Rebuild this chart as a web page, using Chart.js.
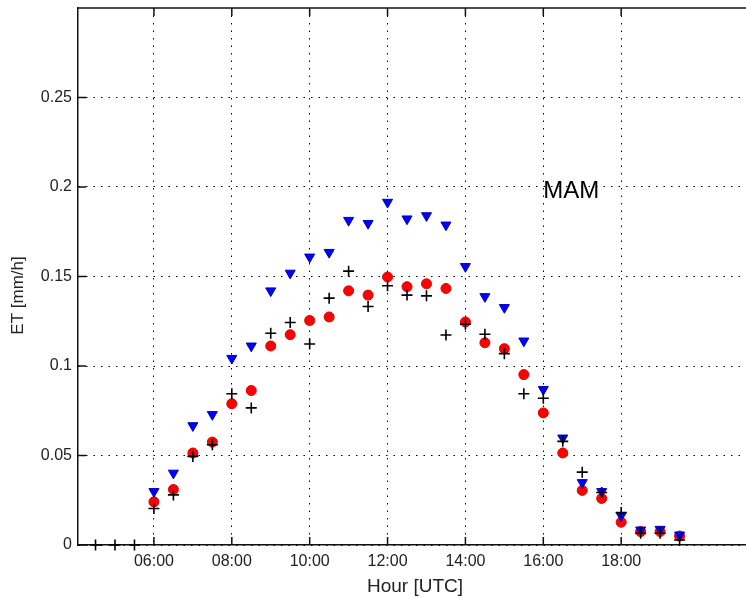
<!DOCTYPE html>
<html><head><meta charset="utf-8">
<script src="https://cdn.jsdelivr.net/npm/chart.js@4"></script>
<style>html,body{margin:0;padding:0;overflow:hidden;background:#fff;} #wrap{width:752px;height:598px;}</style>
</head><body><div id="wrap"><canvas id="c" width="752" height="598"></canvas></div>
<script>
const hours = [6, 6.5, 7, 7.5, 8, 8.5, 9, 9.5, 10, 10.5, 11, 11.5, 12, 12.5, 13, 13.5, 14, 14.5, 15, 15.5, 16, 16.5, 17, 17.5, 18, 18.5, 19, 19.5];
const blueET = [0.0299, 0.0402, 0.0667, 0.0729, 0.1043, 0.1112, 0.142, 0.1519, 0.1609, 0.1635, 0.1814, 0.1797, 0.1915, 0.1822, 0.184, 0.1788, 0.1556, 0.1388, 0.1327, 0.114, 0.0869, 0.0598, 0.0349, 0.0299, 0.0164, 0.0084, 0.0088, 0.0056];
const redET = [0.0241, 0.031, 0.0514, 0.0575, 0.0789, 0.0863, 0.1112, 0.1175, 0.1254, 0.1274, 0.142, 0.1396, 0.1497, 0.1443, 0.1459, 0.1433, 0.1246, 0.113, 0.1097, 0.0952, 0.0738, 0.0514, 0.0305, 0.026, 0.0127, 0.0075, 0.0075, 0.005];
const plusHours = [4.5, 5, 5.5, 6, 6.5, 7, 7.5, 8, 8.5, 9, 9.5, 10, 10.5, 11, 11.5, 12, 12.5, 13, 13.5, 14, 14.5, 15, 15.5, 16, 16.5, 17, 17.5, 18, 18.5, 19, 19.5];
const plusET = [0, 0, 0, 0.0204, 0.028, 0.0495, 0.056, 0.0845, 0.0766, 0.1183, 0.1243, 0.1123, 0.1379, 0.153, 0.1332, 0.1448, 0.1396, 0.1392, 0.1173, 0.1233, 0.1177, 0.1069, 0.0845, 0.082, 0.0579, 0.0407, 0.0293, 0.0181, 0.0066, 0.0066, 0.0028];
const xTicks = [6, 8, 10, 12, 14, 16, 18];
const xTickLabels = ['06:00', '08:00', '10:00', '12:00', '14:00', '16:00', '18:00'];
const yTicks = [0, 0.05, 0.1, 0.15, 0.2, 0.25];
const yTickLabels = ['0', '0.05', '0.1', '0.15', '0.2', '0.25'];
const yTitle = 'ET [mm/h]';
const seasonLabel = 'MAM';
const seasonAt = [16, 0.2];

const FONT = '"Liberation Sans", Arial, sans-serif';
const pts = (xs, ys) => xs.map((v, i) => ({x: v, y: ys[i]}));

const frame = {
  id: 'frame',
  afterDraw(chart) {
    const {ctx, chartArea: a, scales: {x, y}} = chart;
    ctx.save();
    ctx.strokeStyle = '#111';
    ctx.lineWidth = 1.5;
    ctx.beginPath();
    ctx.moveTo(a.left, a.top); ctx.lineTo(a.right, a.top);
    xTicks.forEach(v => {
      const px = x.getPixelForValue(v);
      ctx.moveTo(px, a.bottom); ctx.lineTo(px, a.bottom - 8);
      ctx.moveTo(px, a.top); ctx.lineTo(px, a.top + 8);
    });
    yTicks.forEach(v => {
      const py = y.getPixelForValue(v);
      ctx.moveTo(a.left, py); ctx.lineTo(a.left + 8, py);
    });
    ctx.stroke();
    ctx.fillStyle = '#000';
    ctx.font = '24px ' + FONT;
    ctx.textAlign = 'left';
    ctx.textBaseline = 'alphabetic';
    ctx.fillText(seasonLabel, x.getPixelForValue(seasonAt[0]), y.getPixelForValue(seasonAt[1]) + 10.5);
    // y-axis title
    ctx.fillStyle = '#222';
    ctx.font = '17px ' + FONT;
    ctx.textAlign = 'center';
    ctx.textBaseline = 'middle';
    ctx.translate(18, (a.top + a.bottom) / 2 + 19);
    ctx.rotate(-Math.PI / 2);
    ctx.fillText(yTitle, 0, 0);
    ctx.restore();
  }
};

new Chart(document.getElementById('c'), {
  type: 'scatter',
  data: {
    datasets: [
      {label: 'plus', data: pts(plusHours, plusET), pointStyle: 'cross', pointRadius: 5.5, borderColor: '#000', borderWidth: 1.6, clip: false},
      {label: 'blue', data: pts(hours, blueET), pointStyle: 'triangle', rotation: 180, pointRadius: 5.8, backgroundColor: '#0000ff', borderColor: '#0000c0', borderWidth: 1, clip: false},
      {label: 'red', data: pts(hours, redET), pointStyle: 'circle', pointRadius: 5, backgroundColor: '#ff0000', borderColor: '#e00000', borderWidth: 1, clip: false}
    ]
  },
  options: {
    responsive: false,
    animation: false,
    devicePixelRatio: 1,
    layout: {autoPadding: false, padding: {top: 8, right: 0, left: 0, bottom: 0}},
    plugins: {legend: {display: false}, tooltip: {enabled: false}},
    scales: {
      x: {
        type: 'linear', min: 4.05, max: 21.36,
        afterBuildTicks: s => { s.ticks = xTicks.map(v => ({value: v})); },
        afterFit: s => { s.height = 53; s.paddingLeft = 0; s.paddingRight = 0; },
        ticks: {callback: (v, i) => xTickLabels[i], font: {family: FONT, size: 16}, color: '#222', padding: 7, maxRotation: 0, autoSkip: false},
        grid: {color: '#000', lineWidth: 1, drawTicks: false},
        border: {display: true, color: '#111', width: 1.5, dash: [1.5, 6]},
        title: {display: true, text: 'Hour [UTC]', font: {family: FONT, size: 19}, color: '#222', padding: {top: 0, bottom: 0}}
      },
      y: {
        type: 'linear', min: 0, max: 0.3,
        afterBuildTicks: s => { s.ticks = yTicks.map(v => ({value: v})); },
        afterFit: s => { s.width = 78; s.paddingTop = 0; s.paddingBottom = 0; },
        ticks: {callback: (v, i) => yTickLabels[i], font: {family: FONT, size: 16}, color: '#222', padding: 6, autoSkip: false},
        grid: {color: '#000', lineWidth: 1, drawTicks: false},
        border: {display: true, color: '#111', width: 1.5, dash: [1.5, 6]},
        title: {display: false}
      }
    }
  },
  plugins: [frame]
});
</script></body></html>
